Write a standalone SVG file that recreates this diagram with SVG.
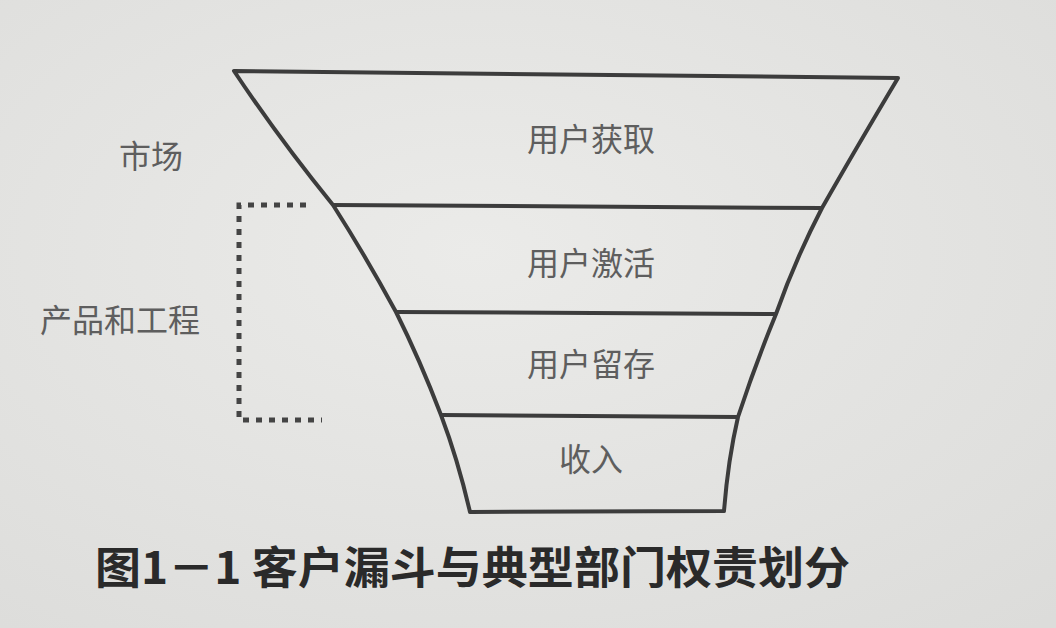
<svg xmlns="http://www.w3.org/2000/svg" width="1056" height="628" viewBox="0 0 1056 628">
<defs>
<radialGradient id="bg" cx="0.45" cy="0.4" r="0.8">
<stop offset="0" stop-color="#ebebe9"/>
<stop offset="1" stop-color="#dcdcda"/>
</radialGradient>
<style>
.edge{fill:none;stroke:#3c3c3c;stroke-width:4;stroke-linejoin:round}
.lbl{font-family:"Noto Sans CJK SC",serif;font-size:32px;fill:#5e5e5e;text-anchor:middle}
.side{font-family:"Noto Sans CJK SC",serif;font-size:32px;fill:#5e5e5e;text-anchor:middle}
.dash{fill:none;stroke:#444;stroke-width:5;stroke-dasharray:6 7}
.cap{font-family:"Noto Sans CJK SC",sans-serif;font-size:44px;font-weight:bold;fill:#2a2a2a}
</style>
</defs>
<rect width="1056" height="628" fill="url(#bg)"/>
<g id="funnel">
<path class="edge" d="M234,71 L898,78 Q855,150 822,208 Q795,260 776,314 Q755,365 738,417 Q728,460 724,511 L470,512 Q458,460 441,415 Q420,360 396,312 Q365,255 333,205 Q280,140 234,71 Z"/>
</g>
<g id="stage-acquire">
<line class="edge" x1="333" y1="205" x2="822" y2="208"/>
<text class="lbl" x="591" y="151">用户获取</text>
</g>
<g id="stage-activate">
<line class="edge" x1="396" y1="312" x2="776" y2="314"/>
<text class="lbl" x="591" y="275">用户激活</text>
</g>
<g id="stage-retain">
<line class="edge" x1="441" y1="415" x2="738" y2="417"/>
<text class="lbl" x="591" y="376">用户留存</text>
</g>
<g id="stage-revenue">
<text class="lbl" x="591" y="471">收入</text>
</g>
<g id="market">
<text class="side" x="151" y="168">市场</text>
</g>
<g id="product">
<text class="side" x="120" y="332">产品和工程</text>
</g>
<g id="connectors">
<path class="dash" d="M306,205 L239,205 L239,420 L322,420"/>
</g>
<g id="caption">
<text class="cap" x="95" y="584" textLength="755" lengthAdjust="spacingAndGlyphs">图1－1 客户漏斗与典型部门权责划分</text>
</g>
</svg>
